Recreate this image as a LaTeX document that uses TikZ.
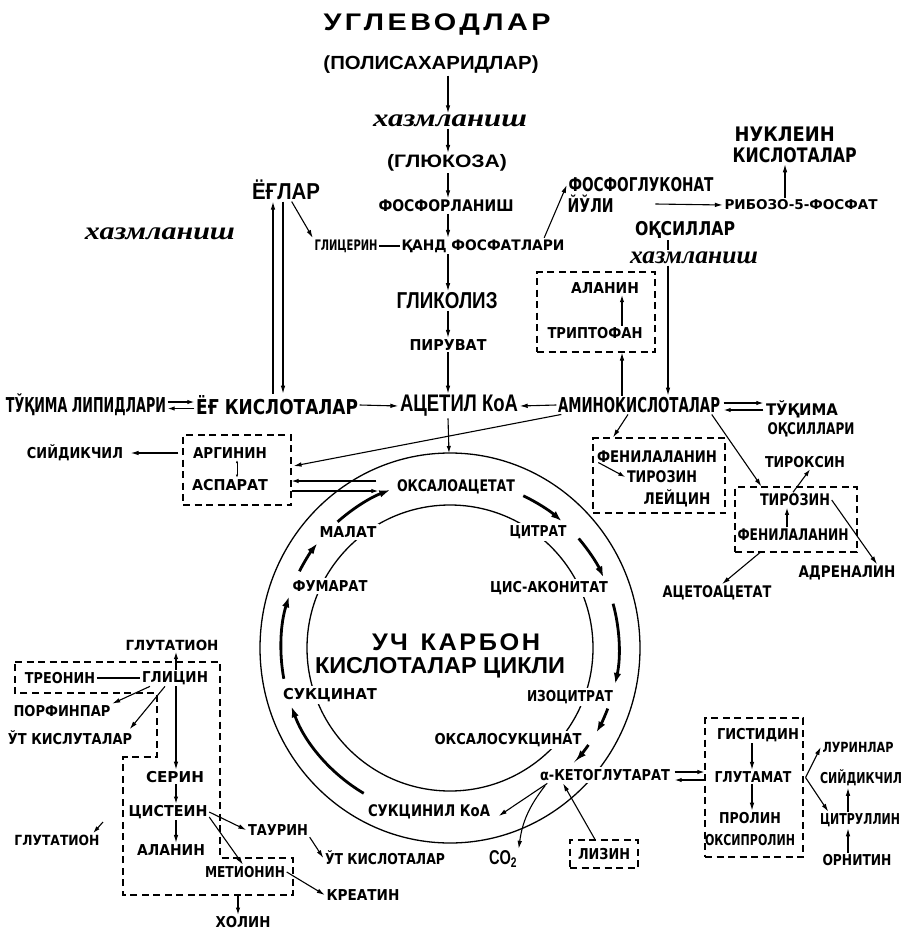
\documentclass[tikz,border=0pt]{standalone}
\usepackage{fontspec}
\usepackage{graphicx}
\setmainfont{DejaVu Sans}
\newfontfamily\plainsf{Liberation Sans}
\newfontfamily\curs{Liberation Serif}
\usetikzlibrary{arrows.meta,calc}
% size helper and a label box of given width (pt), font size (pt) and text
\newcommand\fsz[1]{\fontsize{#1}{#1}\selectfont}
\newcommand\lbx[3]{{\fsz{#2}\resizebox{#1pt}{\height}{#3}}}
\newcommand\cur[2]{{\curs\bfseries\itshape\fsz{25}\resizebox{#1pt}{\height}{#2}}}

\begin{document}
\begin{tikzpicture}[x=1pt,y=-1pt,
  lbl/.style={inner sep=1.5pt, font=\bfseries},
  mid/.style={inner sep=1.5pt, font=\plainsf\bfseries},
  tit/.style={inner sep=1.5pt, font=\plainsf\bfseries},
  rl/.style={lbl, fill=white, inner sep=2.5pt},
  arr/.style={-{Latex[length=8pt,width=4.6pt]}, line width=1.1pt},
  tip/.style={-{Latex[length=7pt,width=4.4pt]}, line width=1.1pt},
  cyc/.style={-{Latex[length=11pt,width=7.5pt]}, line width=2.8pt},
  dbox/.style={draw, dash pattern=on 7pt off 4.5pt, line width=1.1pt},
  ringline/.style={line width=1.3pt}]
\fill[white] (0,0) rectangle (905,931);
\useasboundingbox (0,0) rectangle (905,931);

% ---------- the cycle rings ----------
\begin{scope}[shift={(450,648)}, yscale=-1]
  \draw[ringline] (0,0) ellipse [x radius=190, y radius=195];
  \draw[ringline] (0,0) circle [radius=143];
\end{scope}

% ---------- helper coordinates for vertical runs ----------
\coordinate (sp) at (448,0);
\coordinate (lx1) at (273,0);
\coordinate (lx2) at (283,0);
\coordinate (ax) at (622,0);
\coordinate (ox) at (668,0);
\coordinate (rx) at (785,0);
\coordinate (cx) at (848,0);
\coordinate (gx) at (176,0);
\coordinate (bx) at (752,0);
\coordinate (ringtop) at (449,453);
\coordinate (lbot) at (238,895);
\coordinate (gtfrom) at (103,822);

% ---------- carbohydrate column ----------
\node[tit] (ugl) at (437,25) {\lbx{227}{24}{\addfontfeatures{LetterSpace=12}УГЛЕВОДЛАР}};
\node[mid] (pol) at (431,65) {\lbx{215}{19}{(ПОЛИСАХАРИДЛАР)}};
\node[lbl] (xaz1) at (450,121) {\cur{154}{хазмланиш}};
\node[mid] (glu) at (447,163) {\lbx{120}{18}{(ГЛЮКОЗА)}};
\node[lbl] (fosf) at (446,206) {\lbx{135}{16}{ФОСФОРЛАНИШ}};
\node[lbl] (glit) at (346,246) {\lbx{63}{14.5}{ГЛИЦЕРИН}};
\node[lbl] (qand) at (483,246) {\lbx{163}{14.5}{ҚАНД ФОСФАТЛАРИ}};
\node[mid] (glik) at (447,301) {\lbx{101}{23}{ГЛИКОЛИЗ}};
\node[lbl] (piru) at (448,345) {\lbx{77}{15}{ПИРУВАТ}};

% ---------- fats ----------
\node[tit] (eglar) at (286,190) {\lbx{68}{23}{ЁҒЛАР}};
\node[lbl] (xaz2) at (160,234) {\cur{150}{хазмланиш}};

% ---------- pentose branch ----------
\node[lbl] (fgl) at (641,185) {\lbx{145}{19}{ФОСФОГЛУКОНАТ}};
\node[lbl,anchor=west] (yuli) at (566,204) {\lbx{46}{19}{ЙЎЛИ}};
\node[lbl] (ribo) at (801,205) {\lbx{153}{13.5}{РИБОЗО-5-ФОСФАТ}};
\node[lbl,anchor=west] (nuk) at (733,134) {\lbx{100}{20}{НУКЛЕИН}};
\node[lbl,anchor=west] (kisl) at (731,155) {\lbx{124}{20}{КИСЛОТАЛАР}};

% ---------- proteins ----------
\node[lbl] (oqs) at (685,230) {\lbx{100}{19}{ОҚСИЛЛАР}};
\node[lbl] (xaz3) at (694,258) {\cur{128}{хазмланиш}};
\node[lbl] (ala1) at (605,288) {\lbx{68}{15}{АЛАНИН}};
\node[lbl] (trip) at (595,333) {\lbx{95}{15}{ТРИПТОФАН}};
\node[dbox,minimum width=118pt,minimum height=80pt] (box1) at (596,312) {};

% ---------- main row ----------
\node[lbl] (tl) at (86,405) {\lbx{160}{20.5}{ТЎҚИМА ЛИПИДЛАРИ}};
\node[lbl] (eg) at (277,405) {\lbx{162}{20.5}{ЁҒ КИСЛОТАЛАР}};
\node[mid] (acet) at (459,406) {\lbx{118}{24}{АЦЕТИЛ КоА}};
\node[lbl] (amino) at (639,405) {\lbx{162}{20.5}{АМИНОКИСЛОТАЛАР}};
\node[lbl] (tuq) at (802,409) {\lbx{72}{16}{ТЎҚИМА}};
\node[lbl] (oqsr) at (811,430) {\lbx{87}{16}{ОҚСИЛЛАРИ}};

% ---------- arginine group ----------
\node[lbl] (siy) at (75,453) {\lbx{96}{15}{СИЙДИКЧИЛ}};
\node[lbl] (arg) at (230,453) {\lbx{74}{15}{АРГИНИН}};
\node[lbl] (asp) at (230,485) {\lbx{76}{15}{АСПАРАТ}};
\node[dbox,minimum width=108pt,minimum height=70pt] (box2) at (237,470) {};

% ---------- aromatic group ----------
\node[lbl] (fen1) at (657,457) {\lbx{120}{16}{ФЕНИЛАЛАНИН}};
\node[lbl] (tir1) at (662,477) {\lbx{70}{16}{ТИРОЗИН}};
\node[lbl] (ley) at (677,498) {\lbx{67}{16}{ЛЕЙЦИН}};
\node[dbox,minimum width=132pt,minimum height=75pt] (box3) at (659,475.5) {};
\node[lbl] (tirk) at (805,462) {\lbx{80}{15}{ТИРОКСИН}};
\node[lbl] (tir2) at (795,500) {\lbx{70}{16}{ТИРОЗИН}};
\node[lbl] (fen2) at (793,535) {\lbx{111}{16}{ФЕНИЛАЛАНИН}};
\node[dbox,minimum width=122pt,minimum height=65pt] (box4) at (796,519.5) {};
\node[lbl] (adr) at (847,573) {\lbx{97}{16}{АДРЕНАЛИН}};
\node[lbl] (aceto) at (717,593) {\lbx{109}{16}{АЦЕТОАЦЕТАТ}};

% ---------- cycle members ----------
\node[rl] (oksa) at (456,487) {\lbx{118}{16}{ОКСАЛОАЦЕТАТ}};
\node[rl] (malat) at (348,532) {\lbx{57}{15}{МАЛАТ}};
\node[rl] (fum) at (330,586) {\lbx{75}{15}{ФУМАРАТ}};
\node[rl] (sukc) at (330,695) {\lbx{94}{15}{СУКЦИНАТ}};
\node[rl] (sukkoa) at (429,812) {\lbx{122}{16}{СУКЦИНИЛ КоА}};
\node[rl] (oksu) at (508,740) {\lbx{147}{15}{ОКСАЛОСУКЦИНАТ}};
\node[rl] (izo) at (570,697) {\lbx{86}{15}{ИЗОЦИТРАТ}};
\node[rl] (cis) at (549,588) {\lbx{118}{15}{ЦИС-АКОНИТАТ}};
\node[rl] (citr) at (538,532) {\lbx{57}{15}{ЦИТРАТ}};
\node[rl] (akg) at (605,775) {\lbx{130}{15}{α-КЕТОГЛУТАРАТ}};
\node[tit] (uch) at (456,642) {\lbx{168}{24}{\addfontfeatures{LetterSpace=10}УЧ\hspace{0.5em}КАРБОН}};
\node[tit] (kcik) at (440,668) {\lbx{250}{23}{КИСЛОТАЛАР ЦИКЛИ}};

% cycle arrows
\begin{scope}[shift={(450,648)}, yscale=-1]
  \draw[cyc] (131.7:169) arc[start angle=131.7, end angle=110.7, radius=169];
  \draw[cyc] (64.3:169) arc[start angle=64.3, end angle=48.6, radius=169];
  \draw[cyc] (40.4:169) arc[start angle=40.4, end angle=24.7, radius=169];
  \draw[cyc] (15.2:169) arc[start angle=15.2, end angle=-12.3, radius=169];
  \draw[cyc] (-21:169) arc[start angle=-21, end angle=-30, radius=169];
  \draw[cyc] (-35:169) arc[start angle=-35, end angle=-42, radius=169];
  \draw[cyc] (239.3:169) arc[start angle=239.3, end angle=200.2, radius=169];
  \draw[cyc] (190.5:169) arc[start angle=190.5, end angle=162.2, radius=169];
  \draw[cyc] (153:169) arc[start angle=153, end angle=141.7, radius=169];
\end{scope}

% ---------- glycine / serine group ----------
\node[lbl] (glt1) at (172,645) {\lbx{93}{14}{ГЛУТАТИОН}};
\node[lbl] (treo) at (60,678) {\lbx{70}{15}{ТРЕОНИН}};
\node[lbl] (glic) at (175,678) {\lbx{66}{15}{ГЛИЦИН}};
\node[lbl] (porf) at (62,711) {\lbx{97}{15}{ПОРФИНПАР}};
\node[lbl] (ut1) at (70,738) {\lbx{124}{15}{ЎТ КИСЛУТАЛАР}};
\node[lbl] (serin) at (175,777) {\lbx{58}{15}{СЕРИН}};
\node[lbl] (cist) at (168,812) {\lbx{79}{15}{ЦИСТЕИН}};
\node[lbl] (alan2) at (171,850) {\lbx{68}{15}{АЛАНИН}};
\node[lbl] (taur) at (278,830) {\lbx{60}{15}{ТАУРИН}};
\node[lbl] (ut2) at (385,858) {\lbx{120}{15}{ЎТ КИСЛОТАЛАР}};
\node[lbl] (met) at (245,872) {\lbx{80}{15}{МЕТИОНИН}};
\node[lbl] (kreat) at (363,895) {\lbx{73}{15}{КРЕАТИН}};
\node[lbl] (xolin) at (243,922) {\lbx{55}{15}{ХОЛИН}};
\node[lbl] (glt2) at (57,840) {\lbx{85}{14}{ГЛУТАТИОН}};
\draw[dbox] (15,662) -- (220,662) -- (220,858) -- (293,858) -- (293,895)
  -- (123,895) -- (123,757) -- (157,757) -- (157,693) -- (15,693) -- cycle;

% ---------- glutamate group ----------
\node[lbl] (gist) at (758,735) {\lbx{82}{15}{ГИСТИДИН}};
\node[lbl] (glut) at (753,777) {\lbx{77}{15}{ГЛУТАМАТ}};
\node[lbl] (prol) at (750,818) {\lbx{62}{15}{ПРОЛИН}};
\node[lbl] (oksi) at (750,840) {\lbx{90}{15}{ОКСИПРОЛИН}};
\node[dbox,minimum width=98pt,minimum height=139pt] (box5) at (754,787.5) {};
\node[lbl] (purin) at (858,747) {\lbx{71}{14}{ЛУРИНЛАР}};
\node[lbl] (siy2) at (861,778) {\lbx{82}{15}{СИЙДИКЧИЛ}};
\node[lbl] (citru) at (860,820) {\lbx{80}{15}{ЦИТРУЛЛИН}};
\node[lbl] (orn) at (857,860) {\lbx{69}{15}{ОРНИТИН}};
\node[mid] (co2) at (503,859) {\lbx{28}{20}{CO\textsubscript{2}}};
\node[lbl] (lizin) at (604,854) {\lbx{52}{15}{ЛИЗИН}};
\node[dbox,minimum width=68pt,minimum height=28pt] (box6) at (604,854) {};

% ---------- connectors: carbohydrate column ----------
\draw[arr] (pol.south -| sp) -- (xaz1.north -| sp);
\draw[arr] (xaz1.south -| sp) -- (glu.north -| sp);
\draw[arr] (glu.south -| sp) -- (fosf.north -| sp);
\draw[arr] (fosf.south -| sp) -- (qand.north -| sp);
\draw[arr] (qand.south -| sp) -- (glik.north -| sp);
\draw[arr] (glik.south -| sp) -- (piru.north -| sp);
\draw[arr] (piru.south -| sp) -- (acet.north -| sp);
\draw[tip] (acet.south -| sp) -- (ringtop);
\draw[line width=1.1pt] (glit.east) -- (qand.west);

% fats
\draw[arr] ($(eglar.south east)+(-30,0)$) -- (glit.north west);
\draw[arr] (eg.north -| lx1) -- (eglar.south -| lx1);
\draw[arr] (eglar.south -| lx2) -- (eg.north -| lx2);

% pentose branch
\draw[arr] ($(qand.north east)+(-22,0)$) -- (fgl.west);
\draw[arr] ($(yuli.east)+(40,0)$) -- (ribo.west);
\draw[arr] (ribo.north -| rx) -- (kisl.south -| rx);

% proteins
\draw[line width=1.1pt] (oqs.south -| ox) -- (xaz3.north -| ox);
\draw[arr] (xaz3.south -| ox) -- (amino.north -| ox);
\draw[tip] (trip.north -| ax) -- (ala1.south -| ax);
\draw[arr] (amino.north -| ax) -- (box1.south -| ax);

% main row
\draw[arr] (eg.east) -- (acet.west);
\draw[arr] (amino.west) -- (acet.east);
\draw[tip] ($(tl.east)+(0,-3)$) -- ($(eg.west)+(0,-3)$);
\draw[tip] ($(eg.west)+(0,3.5)$) -- ($(tl.east)+(0,3.5)$);
\draw[tip] ($(amino.east)+(2,-2)$) -- ($(amino.east -| tuq.west)+(-1,-2)$);
\draw[tip] ($(amino.east -| tuq.west)+(-1,5)$) -- ($(amino.east)+(2,5)$);

% arginine group
\draw[arr] ($(box2.west)+(-4,-17)$) -- ($(siy.east)+(6,0)$);
\draw[{Latex[length=3pt,width=2.4pt]}-{Latex[length=3pt,width=2.4pt]}, line width=0.8pt]
  ($(arg.south)+(7,0)$) -- ($(asp.north)+(7,0)$);
\draw[tip] ($(oksa.west)+(-18,-6)$) -- ($(box2.east)+(0,11)$);
\draw[tip] ($(box2.east)+(0,21)$) -- ($(oksa.west)+(-16,4)$);
\draw[arr] ($(amino.south west)+(5,0)$) -- ($(box2.east)+(2,-4)$);

% aromatic group
\draw[arr] ($(amino.south)+(-11,0)$) -- ($(box3.north)+(-46,0)$);
\draw[arr] ($(amino.south east)+(-10,0)$) -- ($(box4.north west)+(27,0)$);
\draw[tip] ($(fen1.south west)+(3,-2)$) -- (tir1.west);
\draw[tip] ($(tir2.north)+(-2,0)$) -- ($(tirk.south)+(5,0)$);
\draw[tip] ($(fen2.north)+(-6,0)$) -- ($(tir2.south)+(-8,0)$);
\draw[arr] (tir2.east) -- ($(adr.north)+(30,0)$);
\draw[arr] ($(box4.south)+(-36,0)$) -- ($(aceto.north)+(5,0)$);

% glycine / serine group
\draw[tip] (glic.north -| gx) -- (glt1.south -| gx);
\draw[line width=1.1pt] (treo.east) -- (glic.west);
\draw[arr] ($(glic.south)+(-25,0)$) -- (porf.north east);
\draw[arr] ($(glic.south)+(-10,0)$) -- ($(ut1.north east)+(-4,0)$);
\draw[arr] (glic.south -| gx) -- (serin.north -| gx);
\draw[tip] (serin.south -| gx) -- (cist.north -| gx);
\draw[arr] (cist.south -| gx) -- (alan2.north -| gx);
\draw[arr] (cist.east) -- (taur.west);
\draw[arr] ($(cist.east)+(0,5)$) -- ($(met.north)+(-2,0)$);
\draw[arr] (taur.south east) -- (ut2.west);
\draw[arr] (met.east) -- (kreat.west);
\draw[tip] (lbot) -- (xolin.north -| lbot);
\draw[tip] (gtfrom) -- ($(glt2.north east)+(-8,0)$);

% glutamate group
\draw[arr] (gist.south -| bx) -- (glut.north -| bx);
\draw[arr] (glut.south -| bx) -- (prol.north -| bx);
\draw[tip] ($(akg.east)+(2,-3)$) -- ($(akg.east -| box5.west)+(0,-3)$);
\draw[tip] ($(akg.east -| box5.west)+(0,5)$) -- ($(akg.east)+(2,5)$);
\draw[arr] ($(box5.east)+(2,-10)$) -- (purin.west);
\draw[arr] ($(box5.east)+(2,-10)$) -- ($(citru.north west)+(10,0)$);
\draw[arr] (orn.north -| cx) -- (citru.south -| cx);
\draw[arr] (citru.north -| cx) -- (siy2.south -| cx);

% around alpha-ketoglutarate
\draw[arr] ($(akg.south west)+(10,0)$) -- ($(sukkoa.east)+(6,4)$);
\draw[arr] ($(akg.south west)+(8,2)$) to[bend right=15] (co2.north east);
\draw[arr] ($(box6.north)+(-9,0)$) -- ($(akg.south)+(-42,0)$);
\end{tikzpicture}
\end{document}
